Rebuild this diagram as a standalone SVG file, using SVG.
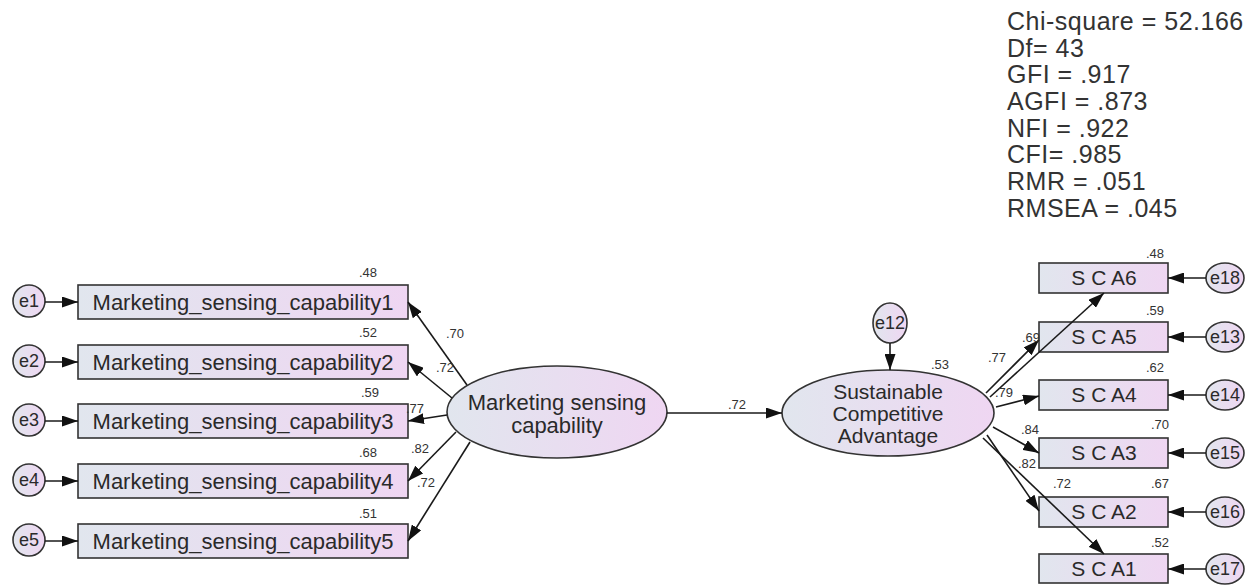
<svg xmlns="http://www.w3.org/2000/svg" width="1260" height="585" viewBox="0 0 1260 585">
<defs>
<linearGradient id="g" x1="0" y1="0" x2="1" y2="0">
<stop offset="0" stop-color="#e1e6ee"/>
<stop offset="1" stop-color="#efd6f2"/>
</linearGradient>
<marker id="ah" markerUnits="userSpaceOnUse" markerWidth="16" markerHeight="11" refX="16" refY="5.5" orient="auto">
<path d="M0,0 L16,5.5 L0,11 z" fill="#111"/>
</marker>
</defs>
<style>
.box{fill:url(#g);stroke:#333;stroke-width:1.6}
.ell{fill:url(#g);stroke:#333;stroke-width:1.6}
.t{font-family:"Liberation Sans",Arial,sans-serif;fill:#2a2a2a}
.big{font-size:22px}
.mid{font-size:21px}
.sm{font-size:13px;fill:#333}
.e{font-size:18px}
.fit{font-size:25px;letter-spacing:0.5px;fill:#333}
.c{text-anchor:middle}
.ln{stroke:#1a1a1a;stroke-width:1.6;fill:none;marker-end:url(#ah)}
</style>
<rect width="1260" height="585" fill="#ffffff"/>

<g id="fit" class="t fit">
<text x="1007" y="30">Chi-square = 52.166</text>
<text x="1007" y="56.7">Df= 43</text>
<text x="1007" y="83.4">GFI = .917</text>
<text x="1007" y="110">AGFI = .873</text>
<text x="1007" y="136.7">NFI = .922</text>
<text x="1007" y="163.4">CFI= .985</text>
<text x="1007" y="190">RMR = .051</text>
<text x="1007" y="216.7">RMSEA = .045</text>
</g>

<g id="e1"><ellipse class="ell" cx="29" cy="301" rx="16" ry="16"/><text class="t e c" x="29" y="307">e1</text></g>
<g id="e2"><ellipse class="ell" cx="29" cy="361" rx="16" ry="16"/><text class="t e c" x="29" y="367">e2</text></g>
<g id="e3"><ellipse class="ell" cx="29" cy="420" rx="16" ry="16"/><text class="t e c" x="29" y="426">e3</text></g>
<g id="e4"><ellipse class="ell" cx="29" cy="480" rx="16" ry="16"/><text class="t e c" x="29" y="486">e4</text></g>
<g id="e5"><ellipse class="ell" cx="29" cy="540" rx="16" ry="16"/><text class="t e c" x="29" y="546">e5</text></g>

<g id="msc1"><rect class="box" x="78" y="285" width="330" height="34"/><text class="t big c" x="243" y="310">Marketing_sensing_capability1</text></g>
<g id="msc2"><rect class="box" x="78" y="345" width="330" height="34"/><text class="t big c" x="243" y="370">Marketing_sensing_capability2</text></g>
<g id="msc3"><rect class="box" x="78" y="404" width="330" height="34"/><text class="t big c" x="243" y="429">Marketing_sensing_capability3</text></g>
<g id="msc4"><rect class="box" x="78" y="464" width="330" height="34"/><text class="t big c" x="243" y="489">Marketing_sensing_capability4</text></g>
<g id="msc5"><rect class="box" x="78" y="524" width="330" height="34"/><text class="t big c" x="243" y="549">Marketing_sensing_capability5</text></g>

<g id="msc"><ellipse class="ell" cx="557" cy="412" rx="110" ry="46"/><text class="t big c" x="557" y="410">Marketing sensing</text><text class="t big c" x="557" y="433">capability</text></g>

<g id="e12"><ellipse class="ell" cx="890" cy="323" rx="17" ry="20"/><text class="t e c" x="890" y="329">e12</text></g>

<g id="sca"><ellipse class="ell" cx="888" cy="413" rx="106" ry="43"/><text class="t mid c" x="888" y="399">Sustainable</text><text class="t mid c" x="888" y="421">Competitive</text><text class="t mid c" x="888" y="443">Advantage</text></g>

<g id="sca6"><rect class="box" x="1039" y="263" width="129" height="30"/><text class="t mid c" x="1104" y="285">S C A6</text></g>
<g id="sca5"><rect class="box" x="1039" y="322" width="129" height="30"/><text class="t mid c" x="1104" y="344">S C A5</text></g>
<g id="sca4"><rect class="box" x="1039" y="380" width="129" height="30"/><text class="t mid c" x="1104" y="402">S C A4</text></g>
<g id="sca3"><rect class="box" x="1039" y="438" width="129" height="30"/><text class="t mid c" x="1104" y="460">S C A3</text></g>
<g id="sca2"><rect class="box" x="1039" y="497" width="129" height="30"/><text class="t mid c" x="1104" y="519">S C A2</text></g>
<g id="sca1"><rect class="box" x="1039" y="554" width="129" height="29"/><text class="t mid c" x="1104" y="576">S C A1</text></g>

<g id="e18"><ellipse class="ell" cx="1225" cy="278" rx="19" ry="15"/><text class="t e c" x="1225" y="284">e18</text></g>
<g id="e13"><ellipse class="ell" cx="1225" cy="337" rx="19" ry="15"/><text class="t e c" x="1225" y="343">e13</text></g>
<g id="e14"><ellipse class="ell" cx="1225" cy="395" rx="19" ry="15"/><text class="t e c" x="1225" y="401">e14</text></g>
<g id="e15"><ellipse class="ell" cx="1225" cy="453" rx="19" ry="15"/><text class="t e c" x="1225" y="459">e15</text></g>
<g id="e16"><ellipse class="ell" cx="1225" cy="512" rx="19" ry="15"/><text class="t e c" x="1225" y="518">e16</text></g>
<g id="e17"><ellipse class="ell" cx="1225" cy="569" rx="19" ry="15"/><text class="t e c" x="1225" y="575">e17</text></g>

<g id="connectors">
<line class="ln" x1="45" y1="302" x2="78" y2="302"/>
<line class="ln" x1="45" y1="362" x2="78" y2="362"/>
<line class="ln" x1="45" y1="421" x2="78" y2="421"/>
<line class="ln" x1="45" y1="481" x2="78" y2="481"/>
<line class="ln" x1="45" y1="541" x2="78" y2="541"/>
<line class="ln" x1="467" y1="385" x2="408" y2="302"/>
<line class="ln" x1="452" y1="398" x2="408" y2="362"/>
<line class="ln" x1="447" y1="415" x2="408" y2="421"/>
<line class="ln" x1="456" y1="432" x2="408" y2="481"/>
<line class="ln" x1="470" y1="442" x2="408" y2="541"/>
<line class="ln" x1="667" y1="413" x2="782" y2="413"/>
<line class="ln" x1="890" y1="343" x2="890" y2="370"/>
<line class="ln" x1="990" y1="397" x2="1104" y2="293"/>
<line class="ln" x1="986" y1="393" x2="1039" y2="340"/>
<line class="ln" x1="996" y1="407" x2="1039" y2="396"/>
<line class="ln" x1="993" y1="427" x2="1039" y2="453"/>
<line class="ln" x1="987" y1="435" x2="1039" y2="511"/>
<line class="ln" x1="983" y1="438" x2="1104" y2="554"/>
<line class="ln" x1="1206" y1="278" x2="1168" y2="278"/>
<line class="ln" x1="1206" y1="337" x2="1168" y2="337"/>
<line class="ln" x1="1206" y1="395" x2="1168" y2="395"/>
<line class="ln" x1="1206" y1="453" x2="1168" y2="453"/>
<line class="ln" x1="1206" y1="512" x2="1168" y2="512"/>
<line class="ln" x1="1206" y1="569" x2="1168" y2="569"/>
</g>

<g id="labels" class="t sm c">
<text x="368" y="277">.48</text>
<text x="368" y="337">.52</text>
<text x="370" y="397">.59</text>
<text x="368" y="457">.68</text>
<text x="368" y="518">.51</text>
<text x="455" y="338">.70</text>
<text x="445" y="372">.72</text>
<text x="415" y="413">.77</text>
<text x="420" y="453">.82</text>
<text x="426" y="487">.72</text>
<text x="737" y="409">.72</text>
<text x="940" y="369">.53</text>
<text x="1155" y="258">.48</text>
<text x="1155" y="315">.59</text>
<text x="1155" y="372">.62</text>
<text x="1160" y="429">.70</text>
<text x="1160" y="488">.67</text>
<text x="1160" y="547">.52</text>
<text x="997" y="362">.77</text>
<text x="1031" y="342">.69</text>
<text x="1004" y="397">.79</text>
<text x="1030" y="434">.84</text>
<text x="1027" y="468">.82</text>
<text x="1062" y="488">.72</text>
</g>
</svg>
